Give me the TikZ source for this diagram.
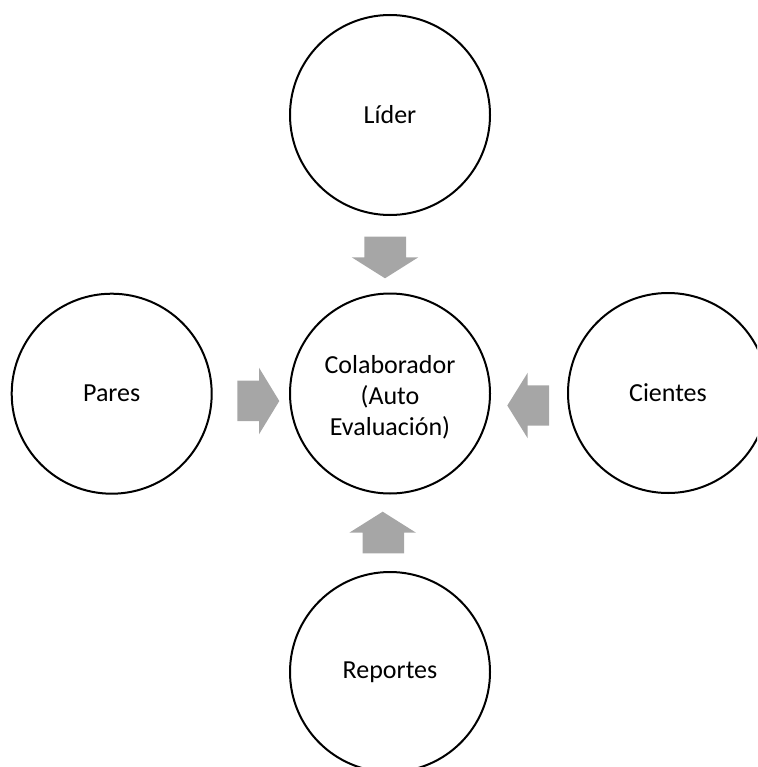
\documentclass[tikz,border=0pt]{standalone}
\usepackage{fontspec}
\setmainfont{Carlito}
\definecolor{arrowgray}{RGB}{166,166,166}
\begin{document}
\begin{tikzpicture}[x=0.75pt,y=-0.75pt,
  bubble/.style={circle,draw=black,line width=1.5pt,fill=white,minimum size=150pt,inner sep=0pt,align=center,font=\fontsize{19.5}{23.4}\selectfont},
  bubbletext/.style={inner sep=0pt,align=center,font=\fontsize{19.5}{23.4}\selectfont},
  blockarrow/.style={fill=arrowgray,draw=none}]
\useasboundingbox (0,0) rectangle (757,767);
\begin{scope}
\clip (0,0) rectangle (757,767);
\node[bubble] (lider) at (390,115) {Líder};
\node[bubble] (colab) at (390,393.5) {};
\node[bubbletext] (colabtext) at ([yshift=-3pt]colab.center) {Colaborador\\(Auto\\Evaluación)};
\node[bubble] (pares) at (111.7,393.7) {Pares};
\node[bubble] (cientes) at (668,393) {Cientes};
\node[bubble] (reportes) at (390,672) {Reportes};
\end{scope}
% top arrow (down)
\fill[blockarrow] (364.3,236.7) -- (406,236.7) -- (406,257.3) -- (418.3,257.3) -- (385,278.3) -- (351.7,257.3) -- (364.3,257.3) -- cycle;
% bottom arrow (up)
\fill[blockarrow] (362.7,553.3) -- (404,553.3) -- (404,532.7) -- (416,532.7) -- (382.7,511.7) -- (349.3,532.7) -- (362.7,532.7) -- cycle;
% left arrow (right)
\fill[blockarrow] (237.3,380.7) -- (259,380.7) -- (259,367.7) -- (279.3,401) -- (259,434.3) -- (259,421) -- (237.3,421) -- cycle;
% right arrow (left)
\fill[blockarrow] (549,385.3) -- (527.7,385.3) -- (527.7,372.7) -- (507.3,405.5) -- (527.7,438.3) -- (527.7,425.7) -- (549,425.7) -- cycle;
\end{tikzpicture}
\end{document}
